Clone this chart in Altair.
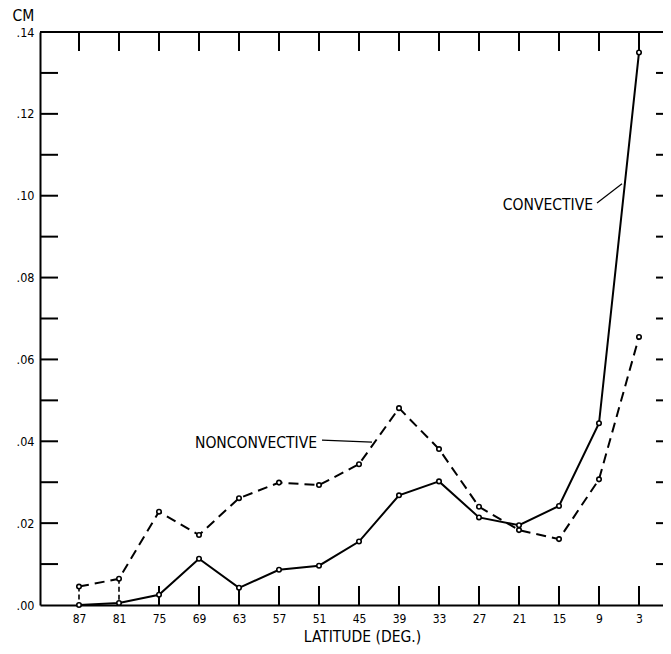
import altair as alt
import pandas as pd

# ---- data ----
lat = [87, 81, 75, 69, 63, 57, 51, 45, 39, 33, 27, 21, 15, 9, 3]
convective = [0.0, 0.0005, 0.0025, 0.0113, 0.0042, 0.0086, 0.0096, 0.0155,
              0.0268, 0.0302, 0.0214, 0.0195, 0.0242, 0.0444, 0.1350]
nonconvective = [0.0045, 0.0064, 0.0228, 0.0171, 0.0261, 0.0299, 0.0293, 0.0344,
                 0.0481, 0.0381, 0.0240, 0.0183, 0.0161, 0.0307, 0.0655]
y_label_values = [0.00, 0.02, 0.04, 0.06, 0.08, 0.10, 0.12, 0.14]
y_tick_values = [0.01, 0.02, 0.03, 0.04, 0.05, 0.06, 0.07, 0.08, 0.09, 0.10,
                 0.11, 0.12, 0.13]
drop_lats = [87, 81]
bottom_tick_lats = [75, 69, 63, 57, 51, 45, 39, 33, 27, 21, 15, 9, 3]

ann_text = ["CONVECTIVE", "NONCONVECTIVE"]
ann_lat = [9.9, 51.3]
ann_value = [0.0977, 0.0397]
lead_lat = [9.3, 50.55]
lead_value = [0.0982, 0.0403]
lead_lat2 = [5.55, 43.05]
lead_value2 = [0.1029, 0.0398]

# ---- layout / style ----
FONT = "DejaVu Sans Condensed, Liberation Sans Narrow, DejaVu Sans, sans-serif"
W, H = 623, 573
X_DOMAIN = [92.85, -0.6]
Y_DOMAIN = [0, 0.14]

xs = alt.Scale(domain=X_DOMAIN, nice=False, zero=False)
ys = alt.Scale(domain=Y_DOMAIN, nice=False, zero=False)

xaxis = alt.Axis(values=lat, labelExpr="format(datum.value, 'd')",
                 title="LATITUDE (DEG.)", ticks=False, grid=False, domain=True,
                 domainColor="black", domainWidth=2,
                 labelFont=FONT, labelFontSize=12, labelColor="black",
                 labelPadding=8, labelFlush=False, labelOverlap=False,
                 titleFont=FONT, titleFontSize=15.5, titleFontWeight="normal",
                 titleColor="black", titleX=322, titleY=39.5,
                 titleBaseline="bottom")
yaxis = alt.Axis(values=y_label_values,
                 labelExpr="replace(format(datum.value, '.2f'), '0.', '.')",
                 title="CM", titleAngle=0, titleX=-28, titleY=-24,
                 titleAlign="left", titleBaseline="top",
                 titleFont=FONT, titleFontSize=15.5, titleFontWeight="normal",
                 titleColor="black",
                 ticks=False, grid=False, domain=True, domainColor="black",
                 domainWidth=2, labelFont=FONT, labelFontSize=12.5,
                 labelColor="black", labelPadding=6, labelFlush=False,
                 labelOverlap=False)


def X(field):
    return alt.X(field, type="quantitative", scale=xs, axis=xaxis)


def Y(field):
    return alt.Y(field, type="quantitative", scale=ys, axis=yaxis)


def XD(v):
    return alt.XDatum(v, type="quantitative", scale=xs, axis=xaxis)


def YD(v):
    return alt.YDatum(v, type="quantitative", scale=ys, axis=yaxis)


df_conv = pd.DataFrame({"lat": lat, "value": convective})
df_non = pd.DataFrame({"lat": lat, "value": nonconvective})
df_all = pd.concat([df_conv, df_non], ignore_index=True)
df_drop = df_non[df_non["lat"].isin(drop_lats)]
df_ytick = pd.DataFrame({"value": y_tick_values})
df_xtick_all = pd.DataFrame({"lat": lat})
df_xtick_bottom = pd.DataFrame({"lat": bottom_tick_lats})
df_ann = pd.DataFrame({"text": ann_text, "lat": ann_lat, "value": ann_value})
df_lead = pd.DataFrame({"lat": lead_lat, "value": lead_value,
                        "lat2": lead_lat2, "value2": lead_value2})

top_border = alt.Chart(pd.DataFrame({"a": [0]})).mark_rule(
    color="black", strokeWidth=2).encode(
    x=XD(X_DOMAIN[0]), x2=alt.datum(X_DOMAIN[1]), y=YD(Y_DOMAIN[1]))

bottom_ticks = alt.Chart(df_xtick_bottom).mark_tick(
    orient="vertical", size=19, thickness=2, color="black", yOffset=-9.5,
    opacity=1).encode(x=X("lat"), y=YD(0))

top_ticks = alt.Chart(df_xtick_all).mark_tick(
    orient="vertical", size=19, thickness=2, color="black", yOffset=9.5,
    opacity=1).encode(x=X("lat"), y=YD(Y_DOMAIN[1]))

left_ticks = alt.Chart(df_ytick).mark_tick(
    orient="horizontal", size=18, thickness=2, color="black", xOffset=9,
    opacity=1).encode(x=XD(X_DOMAIN[0]), y=Y("value"))

right_ticks = alt.Chart(df_ytick).mark_tick(
    orient="horizontal", size=7, thickness=2, color="black", xOffset=-3.5,
    opacity=1).encode(x=XD(X_DOMAIN[1]), y=Y("value"))

drops = alt.Chart(df_drop).mark_rule(
    color="black", strokeWidth=1.6, strokeDash=[5, 3]).encode(
    x=X("lat"), y=Y("value"), y2=alt.datum(0))

solid = alt.Chart(df_conv).mark_line(color="black", strokeWidth=2).encode(
    x=X("lat"), y=Y("value"))

dashed = alt.Chart(df_non).mark_line(
    color="black", strokeWidth=2, strokeDash=[10, 6]).encode(
    x=X("lat"), y=Y("value"))

points = alt.Chart(df_all).mark_point(
    shape="circle", filled=True, fill="white", stroke="black",
    strokeWidth=1.6, size=20, opacity=1).encode(x=X("lat"), y=Y("value"))

labels = alt.Chart(df_ann).mark_text(
    align="right", baseline="middle", font=FONT, fontSize=15.5,
    color="black").encode(x=X("lat"), y=Y("value"), text="text:N")

leaders = alt.Chart(df_lead).mark_rule(color="black", strokeWidth=1.2).encode(
    x=X("lat"), y=Y("value"), x2="lat2:Q", y2="value2:Q")

chart = alt.layer(
    top_border, bottom_ticks, top_ticks, left_ticks, right_ticks,
    drops, solid, dashed, points, labels, leaders
).properties(
    width=W, height=H,
    autosize=alt.AutoSizeParams(type="none"),
    padding={"left": 32, "top": 24, "right": 0, "bottom": 40},
    background="white",
).configure_view(strokeWidth=0)

chart.save("out.html", embed_options={"renderer": "svg", "actions": False})
